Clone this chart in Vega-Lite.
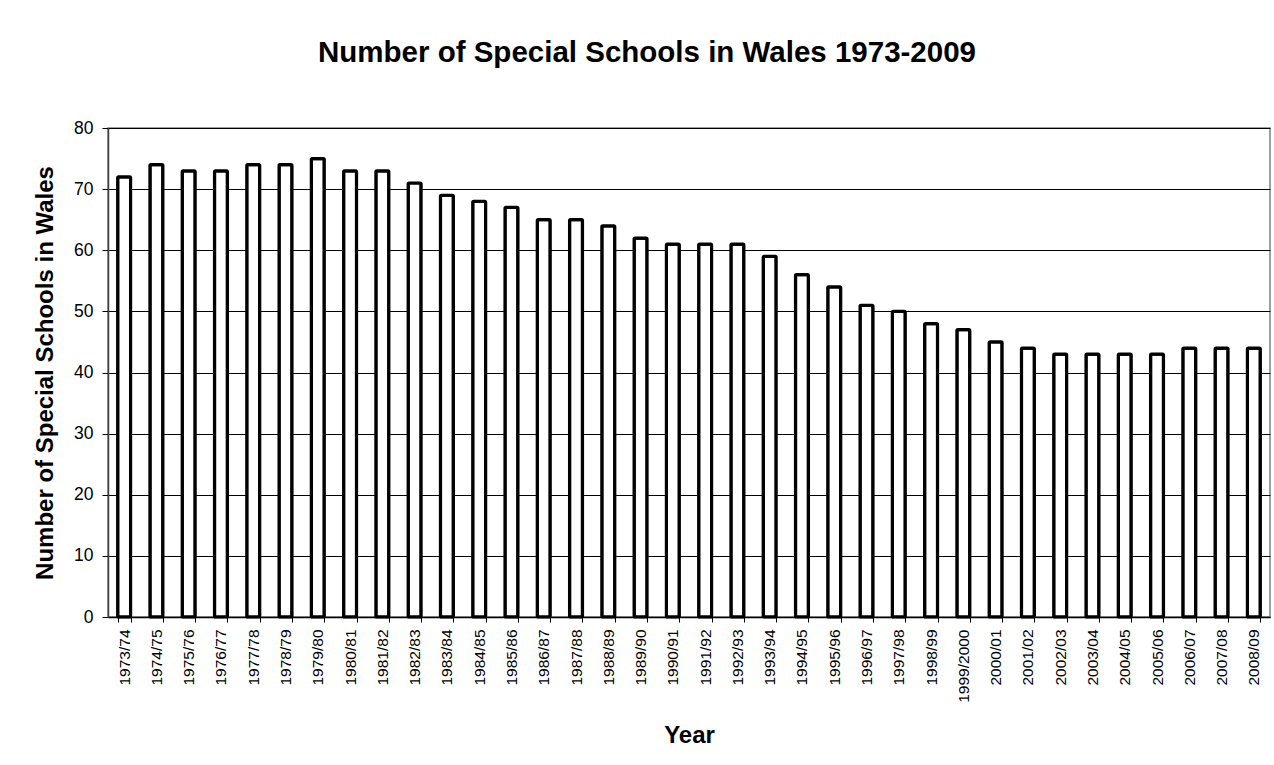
{
  "$schema": "https://vega.github.io/schema/vega-lite/v6.json",
  "width": 1162,
  "height": 489,
  "autosize": {"type": "none"},
  "padding": {"left": 108, "top": 128, "right": 4, "bottom": 148},
  "background": "white",
  "title": {
    "text": "Number of Special Schools in Wales 1973-2009",
    "fontSize": 29.5,
    "fontWeight": "bold",
    "font": "Liberation Sans",
    "color": "black",
    "anchor": "middle",
    "dx": -42,
    "offset": 51
  },
  "config": {
    "font": "Liberation Sans",
    "view": {"stroke": "#808080", "strokeWidth": 1.5},
    "axis": {"labelColor": "black", "titleColor": "black", "tickColor": "black", "domainColor": "black"}
  },
  "data": {
    "values": [
      {"year": "1973/74", "schools": 72},
      {"year": "1974/75", "schools": 74},
      {"year": "1975/76", "schools": 73},
      {"year": "1976/77", "schools": 73},
      {"year": "1977/78", "schools": 74},
      {"year": "1978/79", "schools": 74},
      {"year": "1979/80", "schools": 75},
      {"year": "1980/81", "schools": 73},
      {"year": "1981/82", "schools": 73},
      {"year": "1982/83", "schools": 71},
      {"year": "1983/84", "schools": 69},
      {"year": "1984/85", "schools": 68},
      {"year": "1985/86", "schools": 67},
      {"year": "1986/87", "schools": 65},
      {"year": "1987/88", "schools": 65},
      {"year": "1988/89", "schools": 64},
      {"year": "1989/90", "schools": 62},
      {"year": "1990/91", "schools": 61},
      {"year": "1991/92", "schools": 61},
      {"year": "1992/93", "schools": 61},
      {"year": "1993/94", "schools": 59},
      {"year": "1994/95", "schools": 56},
      {"year": "1995/96", "schools": 54},
      {"year": "1996/97", "schools": 51},
      {"year": "1997/98", "schools": 50},
      {"year": "1998/99", "schools": 48},
      {"year": "1999/2000", "schools": 47},
      {"year": "2000/01", "schools": 45},
      {"year": "2001/02", "schools": 44},
      {"year": "2002/03", "schools": 43},
      {"year": "2003/04", "schools": 43},
      {"year": "2004/05", "schools": 43},
      {"year": "2005/06", "schools": 43},
      {"year": "2006/07", "schools": 44},
      {"year": "2007/08", "schools": 44},
      {"year": "2008/09", "schools": 44}
    ]
  },
  "mark": {"type": "bar", "fill": "white", "stroke": "black", "strokeWidth": 3.2, "strokeJoin": "round", "cornerRadius": 1},
  "encoding": {
    "x": {
      "field": "year",
      "type": "nominal",
      "sort": null,
      "scale": {"paddingInner": 0.6, "paddingOuter": 0.3},
      "axis": {
        "title": "Year",
        "titleFontSize": 24,
        "titleFontWeight": "bold",
        "titlePadding": 21,
        "labelAngle": -90,
        "labelFontSize": 15.5,
        "labelPadding": 7,
        "tickBand": "extent",
        "tickSize": 5,
        "domainWidth": 1.5,
        "grid": false
      }
    },
    "y": {
      "field": "schools",
      "type": "quantitative",
      "scale": {"domain": [0, 80], "nice": false},
      "axis": {
        "title": "Number of Special Schools in Wales",
        "titleFontSize": 24,
        "titleFontWeight": "bold",
        "titlePadding": 16,
        "values": [0, 10, 20, 30, 40, 50, 60, 70, 80],
        "labelFontSize": 17.5,
        "labelPadding": 9,
        "tickSize": 6,
        "domainColor": "#404040",
        "domainWidth": 1.5,
        "grid": true,
        "gridColor": "black",
        "gridWidth": 1
      }
    }
  }
}
